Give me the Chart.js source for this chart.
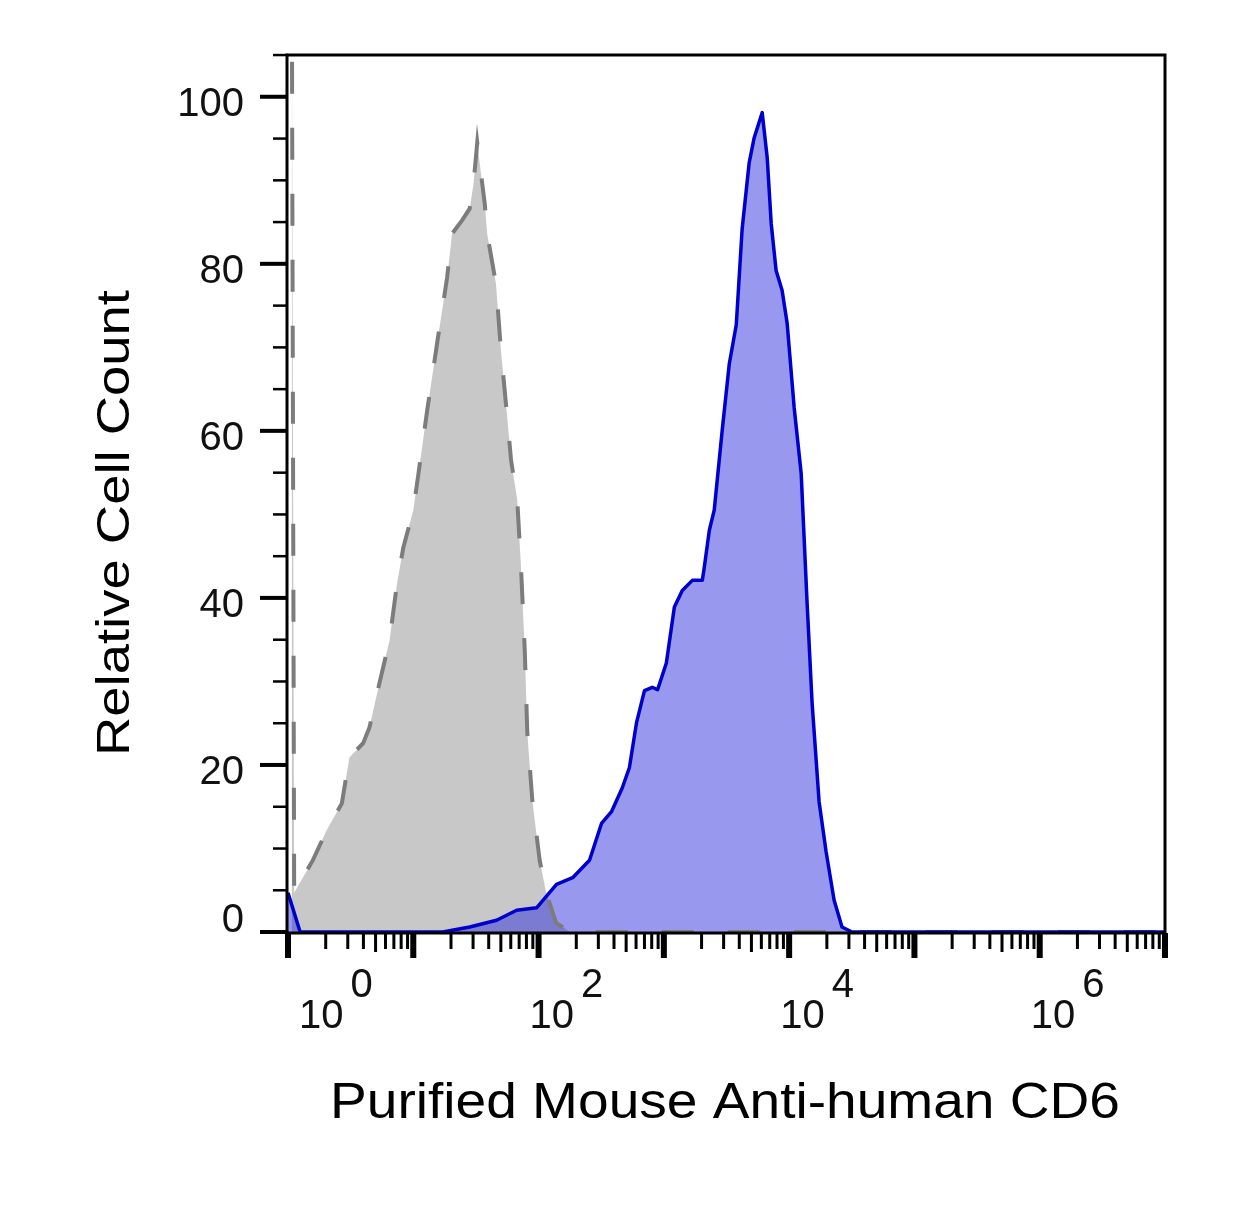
<!DOCTYPE html>
<html>
<head>
<meta charset="utf-8">
<title>Purified Mouse Anti-human CD6</title>
<script src="https://cdn.jsdelivr.net/npm/chart.js@4.4.1/dist/chart.umd.min.js"></script>
<style>
  html, body { margin: 0; padding: 0; background: #fff; }
  canvas { display: block; }
</style>
</head>
<body>
<canvas id="grafica" width="1240" height="1217"></canvas>
<script>
/*************************************** DATOS ***************************************/
// control isotipo (gris, discontinuo)
var xGris = [1.07, 1.12, 1.58, 2.04, 2.69, 3.09, 3.98, 4.47, 5.37, 6.46, 7.41, 8.32, 10, 11, 12.9, 15.5, 18.6, 20.4, 24.5, 28.2,
             30.2, 32.4, 35.5, 37.2, 38.9, 45.7, 50.1, 56.2, 60.3, 67.6, 72.4, 77.6, 81.3, 89.1, 102, 115, 138, 178, 1e7];
var yGris = [120, 4.7, 8.6, 12.2, 15.4, 20.9, 22.6, 24.5, 29.8, 34.9, 41.7, 46, 50.5, 54.9, 62.4, 70.5, 78.3, 83.6, 85.2, 86.6,
             89.5, 94.5, 89.6, 87.2, 83.6, 77.6, 69.6, 61.6, 56.5, 51.7, 43.7, 33.7, 23.8, 15.8, 8.6, 4.7, 1.1, 0, 0];

// anticuerpo CD6 (azul)
var xAzul = [1, 1.25, 17.2, 28.2, 46.2, 66.8, 96.4, 139, 187, 255, 318, 382, 467, 531, 604, 700, 809, 891, 1047, 1213,
             1403, 1687, 2028, 2104, 2307, 2523, 2924, 3327, 3784, 4217, 4797, 5260, 6095, 6683, 7194, 7870, 8790, 9638, 10965, 12474,
             13900, 15240, 17338, 19724, 22856, 26424, 31769, 1e7];
var yAzul = [4.7, 0, 0, 0.6, 1.4, 2.6, 2.9, 5.7, 6.5, 8.6, 13, 14.4, 17.3, 19.7, 25, 28.9, 29.3, 29, 32.2, 38.9,
             40.9, 42.1, 42.1, 43.7, 48.1, 50.5, 60.1, 68, 72.7, 84.2, 92.1, 95.1, 98.1, 92.7, 84.8, 79.2, 76.8, 72.9, 62.8, 54.9,
             39.5, 27.5, 15.6, 9.6, 3.8, 0.6, 0, 0];

// etiquetas de los ejes
var ticksY = [0, 20, 40, 60, 80, 100];
var exponentesX = [0, 2, 4, 6];
var tituloX = 'Purified Mouse Anti-human CD6';
var tituloY = 'Relative Cell Count';

var fuente = '"Liberation Sans", Arial, sans-serif';

function puntos(xs, ys) {
    var lista = [];
    for (var i = 0; i < xs.length; i++) {
        lista.push({ x: xs[i], y: ys[i] });
    }
    return lista;
}

/*************************************** EJES DIBUJADOS A MANO ***************************************/
var ejesPlugin = {
    id: 'ejes',
    afterDraw: function(chart) {
        var ctx = chart.ctx;
        var area = chart.chartArea;
        var sx = chart.scales.x;
        var sy = chart.scales.y;
        var base = area.bottom + 1;

        ctx.save();
        ctx.fillStyle = '#000';
        ctx.strokeStyle = '#000';

        // marco
        ctx.lineWidth = 3;
        ctx.strokeRect(area.left - 1, area.top, area.right - area.left + 1, base - area.top);

        // marcas eje Y cada 5
        for (var v = 0; v <= 105; v += 5) {
            var py = sy.getPixelForValue(v);
            if (v % 20 === 0) {
                ctx.fillRect(area.left - 28, py - 2, 28, 4);
            } else {
                ctx.fillRect(area.left - 15, py - 1.2, 15, 2.5);
            }
        }

        // marcas eje X (decadas + menores)
        for (var d = 0; d <= 7; d++) {
            var pMayor = sx.getPixelForValue(Math.pow(10, d));
            ctx.fillRect(pMayor - 3, base, 6, 25);
            if (d === 7) continue;
            for (var k = 2; k <= 9; k++) {
                var pMenor = sx.getPixelForValue(k * Math.pow(10, d));
                ctx.fillRect(pMenor - 1.5, base, 3, k === 5 ? 19 : 16);
            }
        }

        // etiquetas eje Y
        ctx.fillStyle = '#111';
        ctx.font = '40px ' + fuente;
        ctx.textAlign = 'right';
        ctx.textBaseline = 'alphabetic';
        ticksY.forEach(function(t) {
            var py = sy.getPixelForValue(t);
            ctx.fillText(String(t), area.left - 44, t === 0 ? py : py + 19);
        });

        // etiquetas eje X: 10 con exponente
        ctx.textAlign = 'left';
        exponentesX.forEach(function(e) {
            var px = sx.getPixelForValue(Math.pow(10, e));
            var tx = e === 0 ? px + 11 : px - 9;
            ctx.fillText('10', tx, 1028);
            var w = ctx.measureText('10').width;
            ctx.fillText(String(e), tx + w + 7, 997);
        });

        // titulo eje X
        ctx.fillStyle = '#000';
        ctx.font = '50px ' + fuente;
        var wx = ctx.measureText(tituloX).width;
        ctx.save();
        ctx.translate(330, 1118);
        ctx.scale(790 / wx, 1);
        ctx.fillText(tituloX, 0, 0);
        ctx.restore();

        // titulo eje Y (vertical)
        ctx.font = '47px ' + fuente;
        var wy = ctx.measureText(tituloY).width;
        ctx.save();
        ctx.translate(129, 756);
        ctx.rotate(-Math.PI / 2);
        ctx.scale(466 / wy, 1);
        ctx.fillText(tituloY, 0, 0);
        ctx.restore();

        ctx.restore();
    }
};

/*************************************** GRAFICA ***************************************/
var ctx = document.getElementById('grafica').getContext('2d');
var grafica = new Chart(ctx, {
    type: 'line',
    data: {
        datasets: [{
            label: 'CD6',
            data: puntos(xAzul, yAzul),
            borderColor: '#0000cc',
            borderWidth: 3.5,
            borderJoinStyle: 'round',
            backgroundColor: 'rgba(40, 40, 220, 0.48)',
            fill: 'origin',
            pointRadius: 0,
            tension: 0
        }, {
            label: 'Isotipo',
            data: puntos(xGris, yGris),
            borderColor: '#7c7c7c',
            borderWidth: 4,
            borderDash: [32, 34],
            backgroundColor: '#c8c8c8',
            fill: 'origin',
            pointRadius: 0,
            tension: 0
        }]
    },
    options: {
        responsive: false,
        devicePixelRatio: 1,
        animation: false,
        layout: {
            padding: { left: 288, right: 75, top: 55, bottom: 285 }
        },
        scales: {
            x: { type: 'logarithmic', min: 1, max: 1e7, display: false },
            y: { type: 'linear', min: 0, max: 105, display: false }
        },
        plugins: {
            legend: { display: false },
            tooltip: { enabled: false },
            filler: { drawTime: 'beforeDatasetsDraw' }
        }
    },
    plugins: [ejesPlugin]
});
</script>
</body>
</html>
